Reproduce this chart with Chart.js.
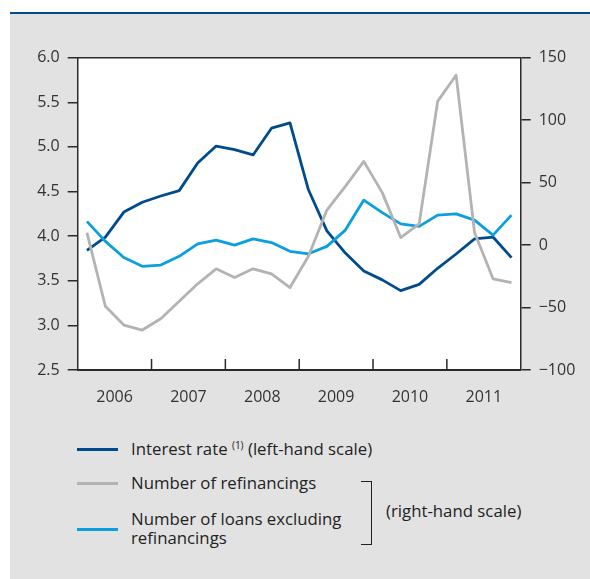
<!DOCTYPE html>
<html>
<head>
<meta charset="utf-8">
<script src="https://cdn.jsdelivr.net/npm/chart.js@4/dist/chart.umd.min.js"></script>
<style>
    body { margin: 0; background: #fff; width: 590px; height: 579px; position: relative; overflow: hidden; font-family: "Open Sans", sans-serif; }
    .topline { position: absolute; left: 10px; top: 12px; width: 580px; height: 2px; background: #004b8d; }
    .panel { position: absolute; left: 10px; top: 14px; width: 580px; height: 565px; background: #e2e2e2; }
    .chart-box { position: absolute; left: 10px; top: 14px; width: 580px; height: 400px; }
    .swatch { position: absolute; left: 77px; width: 41px; height: 3px; }
    .label { position: absolute; left: 131px; font-size: 16.8px; line-height: 19px; color: #222; white-space: nowrap; }
    .label sup { font-size: 10px; vertical-align: 6px; line-height: 0; }
</style>
</head>
<body>
<div class="topline"></div>
<div class="panel"></div>
<div class="chart-box"><canvas id="chart"></canvas></div>

<div class="swatch" style="top: 448px; background: #004b8d;"></div>
<div class="label" style="top: 439px;">Interest rate <sup>(1)</sup> (left-hand scale)</div>
<div class="swatch" style="top: 482px; background: #b3b3b3;"></div>
<div class="label" style="top: 473px;">Number of refinancings</div>
<div class="swatch" style="top: 528px; background: #0a9fe0;"></div>
<div class="label" style="top: 509px;">Number of loans excluding<br>refinancings</div>
<div style="position: absolute; left: 361px; top: 481px; width: 10px; height: 62px; border: 1.5px solid #222; border-left: none;"></div>
<div class="label" style="left: 386px; top: 501px;">(right-hand scale)</div>

<script>
const years = ['2006', '2007', '2008', '2009', '2010', '2011'];

// quarterly values, 2006 Q1 .. 2011 Q4
const interestRate = [3.84, 3.99, 4.27, 4.38, 4.45, 4.51, 4.82, 5.01, 4.97, 4.91, 5.21, 5.27,
    4.52, 4.06, 3.81, 3.61, 3.51, 3.39, 3.46, 3.64, 3.80, 3.97, 3.99, 3.76];
const refinancings = [10, -49, -64, -68, -59, -45, -31, -19, -26, -19, -23, -34,
    -9, 28, 47, 67, 42, 6, 17, 115, 136, 10, -27, -30];
const loansExRefi = [19, 3, -10, -17, -16, -9, 1, 4, 0, 5, 2, -5,
    -7, -1, 12, 36, 26, 17, 15, 24, 25, 20, 8, 24];

const toPoints = arr => arr.map((v, i) => ({ x: i + 0.5, y: v }));

const axisColor = '#2a2a2a';
const tickFont = { family: 'Open Sans', size: 16 };

const framePlugin = {
    id: 'frame',
    beforeDraw(chart) {
        const { ctx, chartArea: a } = chart;
        ctx.save();
        ctx.fillStyle = '#fff';
        ctx.fillRect(a.left, a.top, a.right - a.left, a.bottom - a.top);
        ctx.restore();
    },
    afterDraw(chart) {
        const { ctx, chartArea: a, scales } = chart;
        ctx.save();
        ctx.strokeStyle = axisColor;
        ctx.lineWidth = 1.5;
        ctx.beginPath();
        ctx.moveTo(a.left, a.top);
        ctx.lineTo(a.right, a.top);
        // inward year ticks on the bottom axis
        for (let q = 4; q < years.length * 4; q += 4) {
            const x = scales.x.getPixelForValue(q);
            ctx.moveTo(x, a.bottom);
            ctx.lineTo(x, a.bottom - 11);
        }
        ctx.stroke();
        ctx.restore();
    }
};

new Chart(document.getElementById('chart'), {
    type: 'line',
    data: {
        datasets: [
            { label: 'Number of refinancings', data: toPoints(refinancings), yAxisID: 'y1', borderColor: '#b3b3b3' },
            { label: 'Number of loans excluding refinancings', data: toPoints(loansExRefi), yAxisID: 'y1', borderColor: '#0a9fe0' },
            { label: 'Interest rate', data: toPoints(interestRate), yAxisID: 'y', borderColor: '#004b8d' }
        ]
    },
    options: {
        responsive: true,
        maintainAspectRatio: false,
        animation: false,
        layout: { padding: { top: 43.7, left: 0, right: 0, bottom: 0 } },
        elements: {
            point: { radius: 0 },
            line: { borderWidth: 2.8, tension: 0, borderJoinStyle: 'round' }
        },
        plugins: { legend: { display: false }, tooltip: { enabled: false } },
        scales: {
            x: {
                type: 'linear',
                min: 0,
                max: years.length * 4,
                afterBuildTicks: scale => {
                    scale.ticks = years.map((y, i) => ({ value: i * 4 + 2 }));
                },
                afterFit: scale => { scale.height = 44; },
                grid: { display: false },
                border: { color: axisColor, width: 2 },
                ticks: {
                    font: tickFont,
                    color: '#333',
                    padding: 10,
                    maxRotation: 0,
                    autoSkip: false,
                    callback: v => years[(v - 2) / 4]
                }
            },
            y: {
                position: 'left',
                min: 2.5,
                max: 6.0,
                afterFit: scale => { scale.width = 67.7; },
                grid: { drawOnChartArea: false, tickLength: 10, color: axisColor, lineWidth: 1.5 },
                border: { color: axisColor, width: 1.5 },
                ticks: { stepSize: 0.5, font: tickFont, color: '#333', padding: 8, callback: v => v.toFixed(1) }
            },
            y1: {
                position: 'right',
                min: -100,
                max: 150,
                afterFit: scale => { scale.width = 69.3; },
                grid: { drawOnChartArea: false, tickLength: 10, color: axisColor, lineWidth: 1.5 },
                border: { color: axisColor, width: 1.5 },
                ticks: { stepSize: 50, font: tickFont, color: '#333', padding: 8, callback: v => String(v).replace('-', '\u2212') }
            }
        }
    },
    plugins: [framePlugin]
});
</script>
</body>
</html>
